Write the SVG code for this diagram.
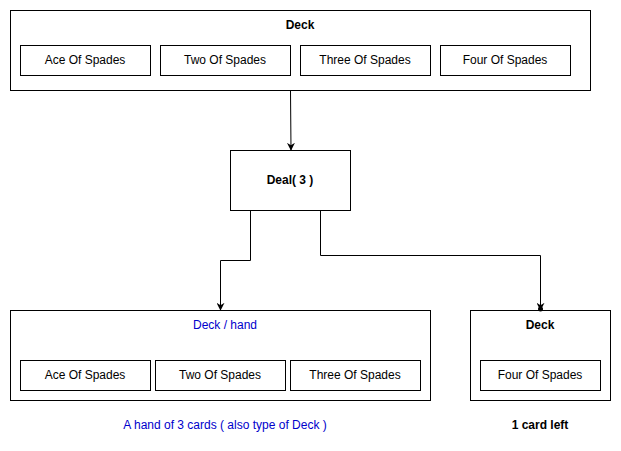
<svg xmlns="http://www.w3.org/2000/svg" width="621" height="451" viewBox="0 0 621 451">
<defs>
<marker id="arr" viewBox="0 0 10 10" refX="9" refY="5" markerWidth="8" markerHeight="8" markerUnits="userSpaceOnUse" orient="auto">
<path d="M0,0 L10,5 L0,10 L3,5 Z" fill="#000"/>
</marker>
<style>
.box{fill:#fff;stroke:#000;stroke-width:1}
.t{font-family:"Liberation Sans",Arial,sans-serif;font-size:12px;fill:#000;text-anchor:middle}
.b{font-weight:bold}
.blue{fill:#0000CC}
.c{fill:none;stroke:#000;stroke-width:1}
</style>
</defs>
<rect width="621" height="451" fill="#fff"/>
<g id="deck-top">
<rect class="box" x="10.5" y="10.5" width="580" height="80"/>
<text class="t b" x="300" y="29">Deck</text>
<rect class="box" x="20.5" y="45.5" width="130" height="30"/>
<text class="t" x="85" y="64">Ace Of Spades</text>
<rect class="box" x="160.5" y="45.5" width="130" height="30"/>
<text class="t" x="225" y="64">Two Of Spades</text>
<rect class="box" x="300.5" y="45.5" width="130" height="30"/>
<text class="t" x="365" y="64">Three Of Spades</text>
<rect class="box" x="440.5" y="45.5" width="130" height="30"/>
<text class="t" x="505" y="64">Four Of Spades</text>
</g>
<g id="deal">
<rect class="box" x="230.5" y="150.5" width="120" height="60"/>
<text class="t b" x="290" y="184">Deal( 3 )</text>
</g>
<g id="hand">
<rect class="box" x="10.5" y="310.5" width="420" height="90"/>
<text class="t blue" x="225" y="329">Deck / hand</text>
<rect class="box" x="20.5" y="360.5" width="130" height="30"/>
<text class="t" x="85" y="379">Ace Of Spades</text>
<rect class="box" x="155.5" y="360.5" width="130" height="30"/>
<text class="t" x="220" y="379">Two Of Spades</text>
<rect class="box" x="290.5" y="360.5" width="130" height="30"/>
<text class="t" x="355" y="379">Three Of Spades</text>
</g>
<g id="deck-rest">
<rect class="box" x="470.5" y="310.5" width="140" height="90"/>
<text class="t b" x="540" y="329">Deck</text>
<rect class="box" x="480.5" y="360.5" width="120" height="30"/>
<text class="t" x="540" y="379">Four Of Spades</text>
</g>
<g id="labels">
<text class="t blue" x="225" y="429">A hand of 3 cards ( also type of Deck )</text>
<text class="t b" x="540" y="429">1 card left</text>
</g>
<g id="connectors">
<path class="c" d="M290.5,91 L291,150" marker-end="url(#arr)"/>
<path class="c" d="M250.5,211 L250.5,260.5 L220.5,260.5 L220.5,310" marker-end="url(#arr)"/>
<path class="c" d="M320.5,211 L320.5,255.5 L540.5,255.5 L540.5,310" marker-end="url(#arr)"/>
<circle cx="540.5" cy="309" r="2.5" fill="#000"/>
</g>
</svg>
